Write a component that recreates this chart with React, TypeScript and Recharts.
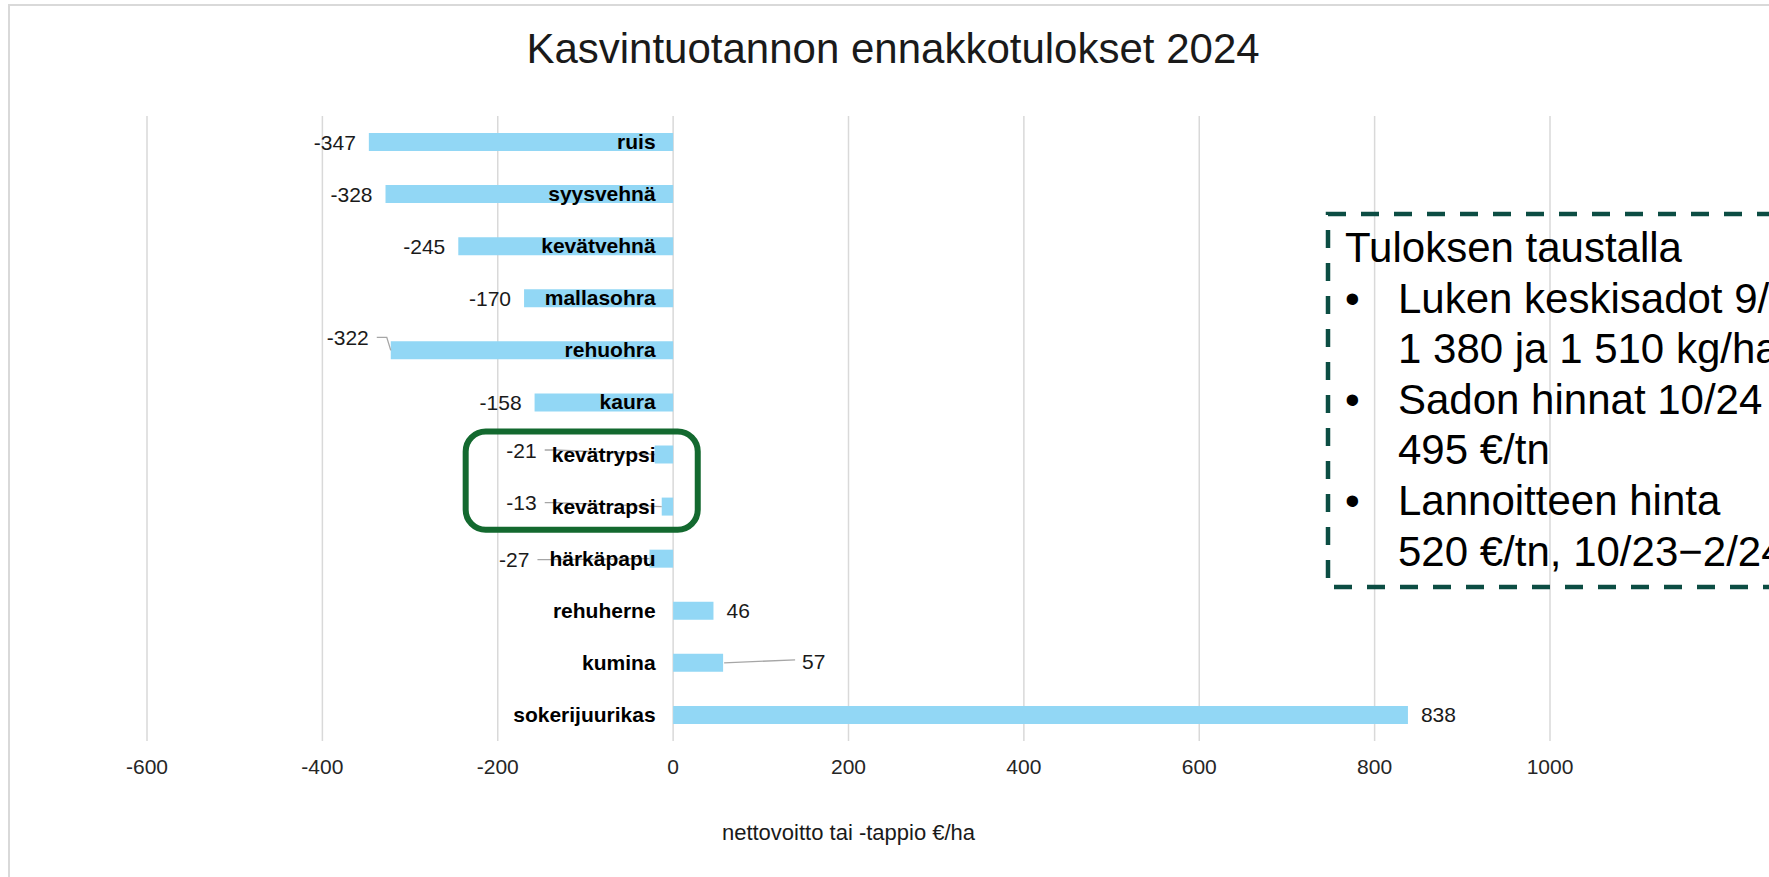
import React from "react";
import { BarChart, Bar, XAxis, YAxis, CartesianGrid, LabelList, ReferenceArea, Label } from "recharts";

const CROPS = [
  "ruis",
  "syysvehnä",
  "kevätvehnä",
  "mallasohra",
  "rehuohra",
  "kaura",
  "kevätrypsi",
  "kevätrapsi",
  "härkäpapu",
  "rehuherne",
  "kumina",
  "sokerijuurikas",
];
const RESULT = [-347, -328, -245, -170, -322, -158, -21, -13, -27, 46, 57, 838];
const X_TICKS = [-600, -400, -200, 0, 200, 400, 600, 800, 1000];

const TITLE = "Kasvintuotannon ennakkotulokset 2024";
const AXIS_TITLE = "nettovoitto tai -tappio €/ha";
const NOTE_TITLE = "Tuloksen taustalla";
// [bullet?, text]
const NOTE_LINES: [boolean, string][] = [
  [true, "Luken keskisadot 9/"],
  [false, "1 380 ja 1 510 kg/ha"],
  [true, "Sadon hinnat 10/24"],
  [false, "495 €/tn"],
  [true, "Lannoitteen hinta"],
  [false, "520 €/tn, 10/23−2/24"],
];

// labels that were dragged aside in the original, they get a leader line
const NUDGE: Record<string, { dx: number; dy: number }> = {
  rehuohra: { dx: -9, dy: -13 },
  "kevätrypsi": { dx: -105, dy: -4.5 },
  "kevätrapsi": { dx: -112, dy: -4 },
  "härkäpapu": { dx: -107, dy: 1 },
  kumina: { dx: 66, dy: -1 },
};

const FONT = '"Liberation Sans", Arial, sans-serif';
const BAR_COLOR = "#92d7f5";
const TEXT = "#1a1a1a";

const data = CROPS.map((name, i) => ({ name, value: RESULT[i] }));

function geom(props: any) {
  const vb = props.viewBox ?? props;
  const v = RESULT[props.index];
  const a = Math.min(vb.x, vb.x + vb.width);
  const b = Math.max(vb.x, vb.x + vb.width);
  return { v, zero: v < 0 ? b : a, end: v < 0 ? a : b, cy: vb.y + vb.height / 2 };
}

function NameLabel(props: any) {
  const { zero, cy } = geom(props);
  return (
    <text x={zero - 17.5} y={cy + 7} textAnchor="end" fontSize={21} fontWeight="bold" fill="#000" fontFamily={FONT}>
      {CROPS[props.index]}
    </text>
  );
}

function ValueLabel(props: any) {
  const { v, end, cy } = geom(props);
  const n = NUDGE[CROPS[props.index]];
  const neg = v < 0;
  const lx = (neg ? end - 13 : end + 13) + (n ? n.dx : 0);
  const ly = cy + (n ? n.dy : 0);
  let leader = null;
  if (n) {
    const pts = neg
      ? `${lx + 8},${ly} ${lx + 18},${ly} ${end},${cy}`
      : `${end + 1},${cy} ${lx - 7},${ly - 2}`;
    leader = <polyline points={pts} fill="none" stroke="#a6a6a6" strokeWidth={1.3} />;
  }
  return (
    <g>
      {leader}
      <text x={lx} y={ly + 7.5} textAnchor={neg ? "end" : "start"} fontSize={21} fill={TEXT} fontFamily={FONT}>
        {String(v)}
      </text>
    </g>
  );
}

function HighlightBox(props: any) {
  const { x, y, width, height } = props;
  return (
    <rect x={x + 3} y={y + 3} width={width - 6} height={height - 6} rx={20} ry={20}
      fill="none" stroke="#13692f" strokeWidth={6} />
  );
}

export default function App() {
  return (
    <div style={{ position: "absolute", left: 0, top: 0, width: 1769, height: 877, overflow: "hidden", background: "#fff", fontFamily: FONT }}>
      <div style={{ position: "absolute", left: 8, top: 4, width: 1800, height: 900, border: "2px solid #d9d9d9", boxSizing: "border-box" }} />
      <div style={{ position: "absolute", left: 0, top: 0 }}>
        <BarChart width={1769} height={877} data={data} layout="vertical"
          margin={{ top: 116, right: 219, bottom: 0, left: 147 }}>
          <CartesianGrid horizontal={false} stroke="#d9d9d9" strokeWidth={1.5} />
          <XAxis type="number" domain={[-600, 1000]} ticks={X_TICKS} interval={0} height={136}
            axisLine={false} tickLine={false} tickMargin={12}
            tick={{ fontSize: 21, fill: "#262626", fontFamily: FONT }}>
            <Label value={AXIS_TITLE} position="insideBottom" offset={37} fontSize={22} fill={TEXT} fontFamily={FONT} />
          </XAxis>
          <YAxis type="category" dataKey="name" hide width={0} />
          <Bar dataKey="value" fill={BAR_COLOR} barSize={18} isAnimationActive={false}>
            <LabelList dataKey="value" content={ValueLabel} />
            <LabelList dataKey="name" content={NameLabel} />
          </Bar>
          <ReferenceArea x1={-240} x2={31.5} y1="kevätrypsi" y2="kevätrapsi" shape={HighlightBox} ifOverflow="visible" />
        </BarChart>
      </div>
      <svg width={1769} height={877} style={{ position: "absolute", left: 0, top: 0, pointerEvents: "none" }}>
        <text x={893} y={63} textAnchor="middle" fontSize={42} fill={TEXT} fontFamily={FONT}>{TITLE}</text>
        <rect x={1328} y={214} width={700} height={373} fill="none" stroke="#0c4d43" strokeWidth={4.5} strokeDasharray="18 15" />
        <text x={1345} y={262} fontSize={42} fill="#000" fontFamily={FONT}>{NOTE_TITLE}</text>
        {NOTE_LINES.map(([bullet, t], i) => (
          <g key={i}>
            {bullet && <text x={1345} y={262 + (i + 1) * 50.6} fontSize={42} fill="#000" fontFamily={FONT}>•</text>}
            <text x={1398} y={262 + (i + 1) * 50.6} fontSize={42} fill="#000" fontFamily={FONT}>{t}</text>
          </g>
        ))}
      </svg>
    </div>
  );
}
